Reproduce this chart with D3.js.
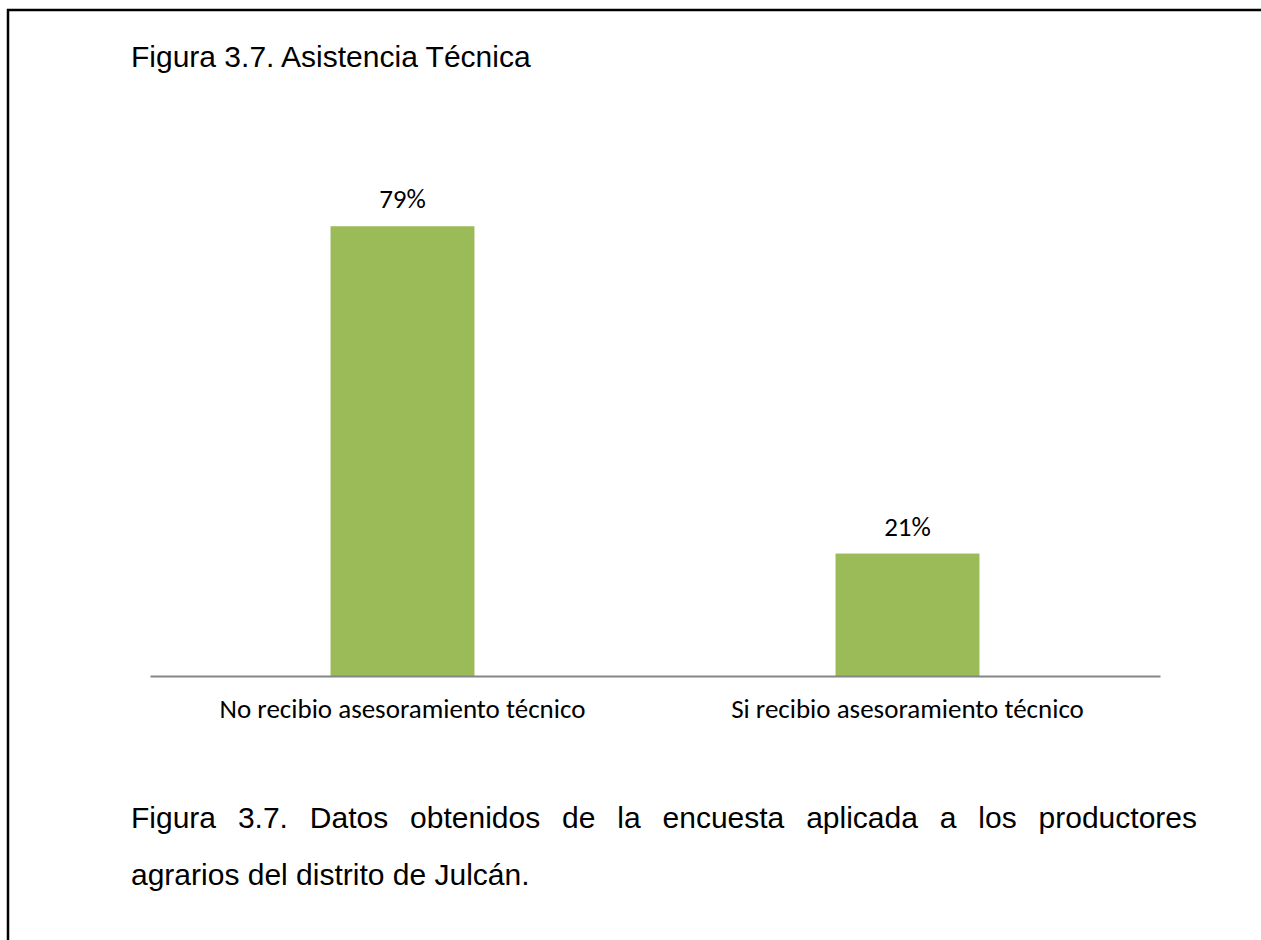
<!DOCTYPE html>
<html>
<head>
<meta charset="utf-8">
<script src="https://cdn.jsdelivr.net/npm/d3@7"></script>
<style>
  html, body { margin: 0; padding: 0; background: #fff; }
  svg { display: block; }
</style>
</head>
<body>
<svg id="chart" width="1261" height="940"></svg>
<script>
// ---- data ----
const categories = ["No recibio asesoramiento técnico", "Si recibio asesoramiento técnico"];
const values = [78.6, 21.4];
const valueLabels = ["79%", "21%"];
const titleText = "Figura 3.7. Asistencia Técnica";
const captionLines = [
  "Figura 3.7. Datos obtenidos de la encuesta aplicada a los productores",
  "agrarios del distrito de Julcán."
];

const svg = d3.select("#chart");
const W = 1261, H = 940;
svg.append("rect").attr("width", W).attr("height", H).attr("fill", "#fff");

// frame (top and left edges)
svg.append("line").attr("x1", 7).attr("x2", W).attr("y1", 10).attr("y2", 10)
  .attr("stroke", "#000").attr("stroke-width", 2.5);
svg.append("line").attr("x1", 8).attr("x2", 8).attr("y1", 9).attr("y2", H)
  .attr("stroke", "#000").attr("stroke-width", 2.5);

const sansFont = "'Liberation Sans', Arial, sans-serif";
const chartFont = "Carlito, Calibri, Lato, 'Open Sans', sans-serif";

// title
svg.append("text").attr("x", 131).attr("y", 67)
  .attr("font-family", sansFont).attr("font-size", 30).attr("fill", "#000")
  .text(titleText);

// scales
const x = d3.scaleBand().domain(categories).range([150, 1160])
  .paddingInner(0.715).paddingOuter(0.3575);
const y = d3.scaleLinear().domain([0, 90]).range([676, 161]);

// bars
svg.append("g").selectAll("rect").data(categories).join("rect")
  .attr("x", d => x(d))
  .attr("y", (d, i) => y(values[i]))
  .attr("width", x.bandwidth())
  .attr("height", (d, i) => y(0) - y(values[i]))
  .attr("fill", "#9BBB59");

// axis line
const axis = svg.append("g").attr("transform", `translate(0,${y(0)})`)
  .call(d3.axisBottom(x).tickSize(0).tickPadding(0));
axis.select(".domain").attr("stroke", "#868686").attr("stroke-width", 2.2);
axis.selectAll(".tick text").remove();

// helper: fit text to width by adjusting font-size
function fitFont(sel, target) {
  sel.each(function() {
    const t = d3.select(this);
    const w = this.getComputedTextLength();
    const fs = parseFloat(t.attr("font-size"));
    t.attr("font-size", fs * target / w);
  });
}

// category labels
const catLabels = svg.append("g").selectAll("text").data(categories).join("text")
  .attr("x", d => x(d) + x.bandwidth() / 2)
  .attr("y", 718)
  .attr("text-anchor", "middle")
  .attr("font-family", chartFont).attr("font-size", 24).attr("fill", "#000")
  .text(d => d);
fitFont(catLabels.filter((d, i) => i === 0), 366);
catLabels.filter((d, i) => i === 1).attr("font-size", catLabels.filter((d, i) => i === 0).attr("font-size"));

// value labels
svg.append("g").selectAll("text").data(categories).join("text")
  .attr("x", d => x(d) + x.bandwidth() / 2)
  .attr("y", (d, i) => y(values[i]) - 18)
  .attr("text-anchor", "middle")
  .attr("font-family", chartFont).attr("font-size", catLabels.attr("font-size")).attr("fill", "#000")
  .text((d, i) => valueLabels[i]);

// caption (justified first line)
const capSize = 30;
const capG = svg.append("g").attr("font-family", sansFont).attr("font-size", capSize).attr("fill", "#000");
capG.append("text").attr("x", 131).attr("y", 885).text(captionLines[1]);

const words = captionLines[0].split(" ");
const wTexts = words.map(w => capG.append("text").attr("y", 828).text(w));
const widths = wTexts.map(t => t.node().getComputedTextLength());
const total = d3.sum(widths);
const left = 131, right = 1197;
const gap = (right - left - total) / (words.length - 1);
let cx = left;
wTexts.forEach((t, i) => {
  t.attr("x", cx);
  cx += widths[i] + gap;
});
</script>
</body>
</html>
